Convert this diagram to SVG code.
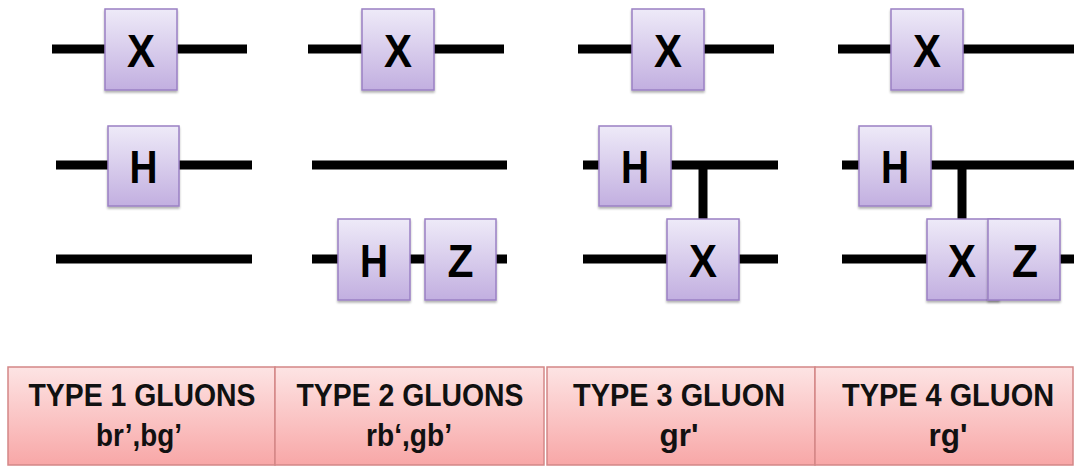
<svg xmlns="http://www.w3.org/2000/svg" width="1074" height="466" viewBox="0 0 1074 466">
  <defs>
    <linearGradient id="gGate" x1="0" y1="0" x2="0" y2="1">
      <stop offset="0" stop-color="#eeeaf8"/>
      <stop offset="1" stop-color="#c2afe0"/>
    </linearGradient>
    <linearGradient id="gLabel" x1="0" y1="0" x2="0" y2="1">
      <stop offset="0" stop-color="#fde4e4"/>
      <stop offset="1" stop-color="#f8a7a7"/>
    </linearGradient>
    <filter id="shadow" x="-10%" y="-10%" width="130%" height="130%">
      <feDropShadow dx="0" dy="2" stdDeviation="1.2" flood-color="#000" flood-opacity="0.3"/>
    </filter>
  </defs>
  <style>
    .wire { stroke: #000; stroke-width: 9; fill: none; }
    .gate rect { fill: url(#gGate); stroke: #9a80c4; stroke-width: 1.5; filter: url(#shadow); }
    .gate text { font-family: "Liberation Sans", Arial, sans-serif; font-weight: bold; font-size: 46px; fill: #000; text-anchor: middle; }
    .label rect { fill: url(#gLabel); stroke: #d38787; stroke-width: 1.5; }
    .label text { font-family: "Liberation Sans", Arial, sans-serif; font-weight: bold; font-size: 32px; fill: #111; text-anchor: middle; }
  </style>
  <rect width="1074" height="466" fill="#fff"/>

  <g id="connectors">
    <!-- panel 1 -->
    <line class="wire" x1="52" y1="49" x2="247" y2="49"/>
    <line class="wire" x1="56" y1="165" x2="252" y2="165"/>
    <line class="wire" x1="56" y1="259" x2="252" y2="259"/>
    <!-- panel 2 -->
    <line class="wire" x1="308" y1="49" x2="504" y2="49"/>
    <line class="wire" x1="312" y1="165" x2="507" y2="165"/>
    <line class="wire" x1="312" y1="259" x2="507" y2="259"/>
    <!-- panel 3 -->
    <line class="wire" x1="578" y1="49" x2="774" y2="49"/>
    <line class="wire" x1="583" y1="165" x2="778" y2="165"/>
    <line class="wire" x1="583" y1="259" x2="778" y2="259"/>
    <line class="wire" x1="703" y1="165" x2="703" y2="220"/>
    <!-- panel 4 -->
    <line class="wire" x1="838" y1="49" x2="1074" y2="49"/>
    <line class="wire" x1="842" y1="165" x2="1074" y2="165"/>
    <line class="wire" x1="842" y1="259" x2="1074" y2="259"/>
    <line class="wire" x1="962" y1="165" x2="962" y2="220"/>
  </g>

  <!-- panel 1 gates -->
  <g id="p1-x" class="gate"><rect x="105" y="9" width="72" height="81"/><text x="141" y="67" textLength="28" lengthAdjust="spacingAndGlyphs">X</text></g>
  <g id="p1-h" class="gate"><rect x="108" y="126" width="71" height="80"/><text x="143.5" y="183" textLength="28" lengthAdjust="spacingAndGlyphs">H</text></g>

  <!-- panel 2 gates -->
  <g id="p2-x" class="gate"><rect x="362" y="9" width="72" height="81"/><text x="398" y="67" textLength="28" lengthAdjust="spacingAndGlyphs">X</text></g>
  <g id="p2-h" class="gate"><rect x="338" y="219" width="72" height="81"/><text x="374" y="277" textLength="28" lengthAdjust="spacingAndGlyphs">H</text></g>
  <g id="p2-z" class="gate"><rect x="425" y="219" width="71" height="81"/><text x="460.5" y="277" textLength="26" lengthAdjust="spacingAndGlyphs">Z</text></g>

  <!-- panel 3 gates -->
  <g id="p3-x" class="gate"><rect x="632" y="9" width="72" height="81"/><text x="668" y="67" textLength="28" lengthAdjust="spacingAndGlyphs">X</text></g>
  <g id="p3-h" class="gate"><rect x="599" y="126" width="72" height="80"/><text x="635" y="183" textLength="28" lengthAdjust="spacingAndGlyphs">H</text></g>
  <g id="p3-cx" class="gate"><rect x="667" y="219" width="72" height="81"/><text x="703" y="277" textLength="28" lengthAdjust="spacingAndGlyphs">X</text></g>

  <!-- panel 4 gates -->
  <g id="p4-x" class="gate"><rect x="891" y="9" width="72" height="81"/><text x="927" y="67" textLength="28" lengthAdjust="spacingAndGlyphs">X</text></g>
  <g id="p4-h" class="gate"><rect x="859" y="126" width="72" height="80"/><text x="895" y="183" textLength="28" lengthAdjust="spacingAndGlyphs">H</text></g>
  <g id="p4-cx" class="gate"><rect x="927" y="219" width="72" height="81"/><text x="962" y="277" textLength="28" lengthAdjust="spacingAndGlyphs">X</text></g>
  <g id="p4-z" class="gate"><rect x="988" y="219" width="72" height="81"/><text x="1025" y="277" textLength="26" lengthAdjust="spacingAndGlyphs">Z</text></g>

  <!-- labels -->
  <g id="label-1" class="label">
    <rect x="8" y="367" width="267" height="98"/>
    <text x="142" y="406" textLength="227" lengthAdjust="spacingAndGlyphs">TYPE 1 GLUONS</text>
    <text x="139" y="446" textLength="86" lengthAdjust="spacingAndGlyphs">br’,bg’</text>
  </g>
  <g id="label-2" class="label">
    <rect x="275" y="367" width="269" height="98"/>
    <text x="410" y="406" textLength="227" lengthAdjust="spacingAndGlyphs">TYPE 2 GLUONS</text>
    <text x="409" y="446" textLength="86" lengthAdjust="spacingAndGlyphs">rb‘,gb’</text>
  </g>
  <g id="label-3" class="label">
    <rect x="547" y="367" width="268" height="98"/>
    <text x="679" y="406" textLength="212" lengthAdjust="spacingAndGlyphs">TYPE 3 GLUON</text>
    <text x="679" y="446" textLength="39" lengthAdjust="spacingAndGlyphs">gr'</text>
  </g>
  <g id="label-4" class="label">
    <rect x="815" y="367" width="258" height="98"/>
    <text x="948" y="406" textLength="212" lengthAdjust="spacingAndGlyphs">TYPE 4 GLUON</text>
    <text x="948" y="446" textLength="39" lengthAdjust="spacingAndGlyphs">rg'</text>
  </g>
</svg>
